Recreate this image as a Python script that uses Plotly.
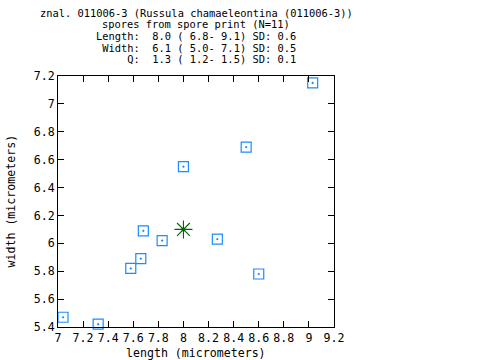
import plotly.graph_objects as go

# spore measurements (micrometers)
lengths = [7.04, 7.32, 7.58, 7.66, 7.68, 7.83, 8.00, 8.27, 8.50, 8.60, 9.03]
widths = [5.47, 5.42, 5.82, 5.89, 6.09, 6.02, 6.55, 6.03, 6.69, 5.78, 7.15]
mean_len = [8.0]
mean_wid = [6.1]

title_lines = [
    "znal. 011006-3 (Russula chamaeleontina (011006-3))",
    "spores from spore print (N=11)",
    "Length:  8.0 ( 6.8- 9.1) SD: 0.6",
    " Width:  6.1 ( 5.0- 7.1) SD: 0.5",
    "     Q:  1.3 ( 1.2- 1.5) SD: 0.1",
]
x_label = "length (micrometers)"
y_label = "width (micrometers)"

FONT = "DejaVu Sans Mono"
FS = 11.6
TFS = 10.4
W, H = 480, 360
L, R, T, B = 58, 146, 76, 33
PH = H - T - B

fig = go.Figure()
fig.add_trace(go.Scatter(
    x=lengths, y=widths, mode="markers", cliponaxis=False,
    marker=dict(symbol="square-open-dot", size=10, color="#1a8cff",
                line=dict(width=1.2, color="#1a8cff")),
    showlegend=False, hoverinfo="skip"))
fig.add_trace(go.Scatter(
    x=mean_len, y=mean_wid, mode="markers", cliponaxis=False,
    marker=dict(symbol="asterisk-open", size=15, color="#006400",
                line=dict(width=1.1, color="#006400")),
    showlegend=False, hoverinfo="skip"))
fig.add_trace(go.Scatter(
    x=mean_len, y=mean_wid, mode="markers", cliponaxis=False,
    marker=dict(symbol="circle", size=4, color="#006400"),
    showlegend=False, hoverinfo="skip"))

annotations = []
title_y_px = [13, 24.5, 36, 47.5, 59]
for line, ypx in zip(title_lines, title_y_px):
    annotations.append(dict(
        text=line.replace(" ", "\u00a0"), xref="paper", yref="paper",
        x=0.5, y=(H - B - ypx) / PH, xanchor="center", yanchor="middle",
        showarrow=False, font=dict(family=FONT, size=TFS, color="black")))
annotations.append(dict(
    text=x_label.replace(" ", "\u00a0"), xref="paper", yref="paper",
    x=0.5, y=(H - B - 353) / PH, xanchor="center", yanchor="middle",
    showarrow=False, font=dict(family=FONT, size=FS, color="black")))
annotations.append(dict(
    text=y_label.replace(" ", "\u00a0"), xref="paper", yref="paper",
    x=(10 - L) / (W - L - R), y=0.5, xanchor="center", yanchor="middle",
    textangle=-90, showarrow=False,
    font=dict(family=FONT, size=FS, color="black")))

axis_common = dict(
    showgrid=False, zeroline=False, showline=True, linecolor="black",
    linewidth=1, mirror="ticks", ticks="inside", ticklen=6,
    tickcolor="black", tickwidth=1,
    tickfont=dict(family=FONT, size=FS, color="black"))

fig.update_layout(
    width=W, height=H,
    margin=dict(l=L, r=R, t=T, b=B, autoexpand=False),
    paper_bgcolor="white", plot_bgcolor="white",
    xaxis=dict(range=[7, 9.2], tick0=7, dtick=0.2, **axis_common),
    yaxis=dict(range=[5.4, 7.2], tick0=5.4, dtick=0.2, **axis_common),
    annotations=annotations,
)

fig.write_html("out.html", config={"displayModeBar": False},
               post_script="document.body.style.margin='0';document.body.style.overflow='hidden';")
